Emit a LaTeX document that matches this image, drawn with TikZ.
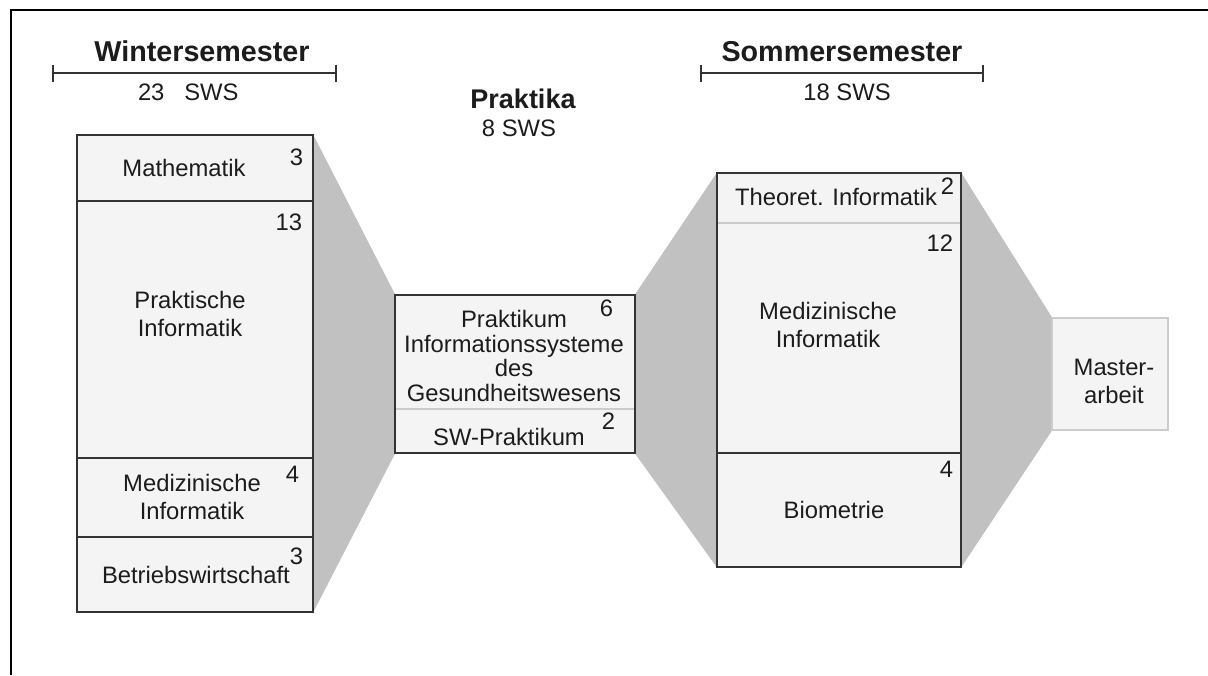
\documentclass[tikz,border=0pt]{standalone}
\usepackage{fontspec}
\setmainfont{Liberation Sans}
\usetikzlibrary{arrows.meta}
\pgfdeclarelayer{background}
\pgfsetlayers{background,main}

\definecolor{boxfill}{HTML}{F4F4F4}
\definecolor{bandgray}{HTML}{C1C1C1}
\definecolor{boxline}{HTML}{333333}
\definecolor{softline}{HTML}{CCCCCC}
\definecolor{ink}{HTML}{1C1C1C}

\begin{document}
\begin{tikzpicture}[x=1pt, y=-1pt,
  every node/.style={inner sep=0pt, outer sep=0pt, text=ink},
  txt/.style={font=\fontsize{23.8}{28}\selectfont, align=center},
  num/.style={font=\fontsize{23.8}{28}\selectfont, anchor=base east},
  head/.style={font=\fontsize{28.7}{32}\selectfont\bfseries, anchor=base},
  col/.style={draw=boxline, line width=2pt, fill=boxfill, anchor=north west},
  band/.style={fill=bandgray, draw=bandgray, line width=0.6pt},
  sep/.style={draw=boxline, line width=2pt},
  softsep/.style={draw=softline, line width=1.5pt},
  span/.style={draw=boxline, line width=1.6pt, {Bar[width=17pt]}-{Bar[width=17pt]}}]
 \useasboundingbox (0,0) rectangle (1208,675);
 \draw[line width=2pt] (11,675) -- (11,10) -- (1208,10);

 % semester headings
 \node[head] (wtitle) at (202,61) {Wintersemester};
 \coordinate (wl) at (52,73);
 \coordinate (wr) at (337,73);
 \draw[span] (wl) -- (wr);
 \node[txt, anchor=base west] (wsws) at (138,100) {23\ \ \ SWS};

 \node[head] (stitle) at (842,61) {Sommersemester};
 \coordinate (sl) at (700,73);
 \coordinate (sr) at (984,73);
 \draw[span] (sl) -- (sr);
 \node[txt, anchor=base] (ssws) at (847,100) {18 SWS};

 \node[head, font=\fontsize{27}{30}\selectfont\bfseries] (ptitle) at (523,108) {Praktika};
 \node[txt, anchor=base] (psws) at (519,136) {8 SWS};

 % columns
 \node[col, minimum width=236pt, minimum height=477pt] (winter) at (77,135) {};
 \node[col, minimum width=240pt, minimum height=158pt] (prak) at (395,295) {};
 \node[col, minimum width=244pt, minimum height=394pt] (summer) at (717,173) {};
 \node[col, draw=softline, line width=1.5pt, minimum width=116pt, minimum height=112pt] (master) at (1052,318) {};

 \begin{pgfonlayer}{background}
  \fill[white] (0,0) rectangle (1208,675);
  \filldraw[band] (winter.north east) -- (prak.north west) -- (prak.south west) -- (winter.south east) -- cycle;
  \filldraw[band] (prak.north east) -- (summer.north west) -- (summer.south west) -- (prak.south east) -- cycle;
  \filldraw[band] (summer.north east) -- (master.north west) -- (master.south west) -- (summer.south east) -- cycle;
 \end{pgfonlayer}

 \draw[sep] (77,201) -- (313,201);
 \draw[sep] (77,458) -- (313,458);
 \draw[sep] (77,537) -- (313,537);
 \draw[softsep] (396,409) -- (634,409);
 \draw[softsep] (718,223) -- (960,223);
 \draw[sep] (717,453) -- (961,453);

 % Wintersemester
 \node[txt, anchor=base] (math) at (184,176) {Mathematik};
 \node[num] (nmath) at (303,165) {3};
 \node[num] (npinf) at (302,230) {13};
 \node[txt] (pinf) at (190,314) {Praktische\\Informatik};
 \node[num] (nminf) at (299,482) {4};
 \node[txt] (minf) at (192,497) {Medizinische\\Informatik};
 \node[num] (nbwl) at (303,564) {3};
 \node[txt, anchor=base west] (bwl) at (102,583) {Betriebswirtschaft};

 % Praktika
 \node[txt, font=\fontsize{23.8}{24.7}\selectfont] (pis) at (514,356) {Praktikum\\Informationssysteme\\des\\Gesundheitswesens};
 \node[num] (npis) at (613,316) {6};
 \node[num] (nswp) at (615,429) {2};
 \node[txt, anchor=base] (swp) at (509,445) {SW-Praktikum};

 % Sommersemester
 \node[txt, anchor=base west] (theo) at (735,205) {Theoret. Informatik};
 \node[num] (ntheo) at (954,194) {2};
 \node[num] (nmed) at (953,251) {12};
 \node[txt] (med) at (828,325) {Medizinische\\Informatik};
 \node[num] (nbio) at (953,477) {4};
 \node[txt, anchor=base] (bio) at (834,518) {Biometrie};

 \node[txt] (ma) at (1114,381) {Master-\\arbeit};
\end{tikzpicture}
\end{document}
